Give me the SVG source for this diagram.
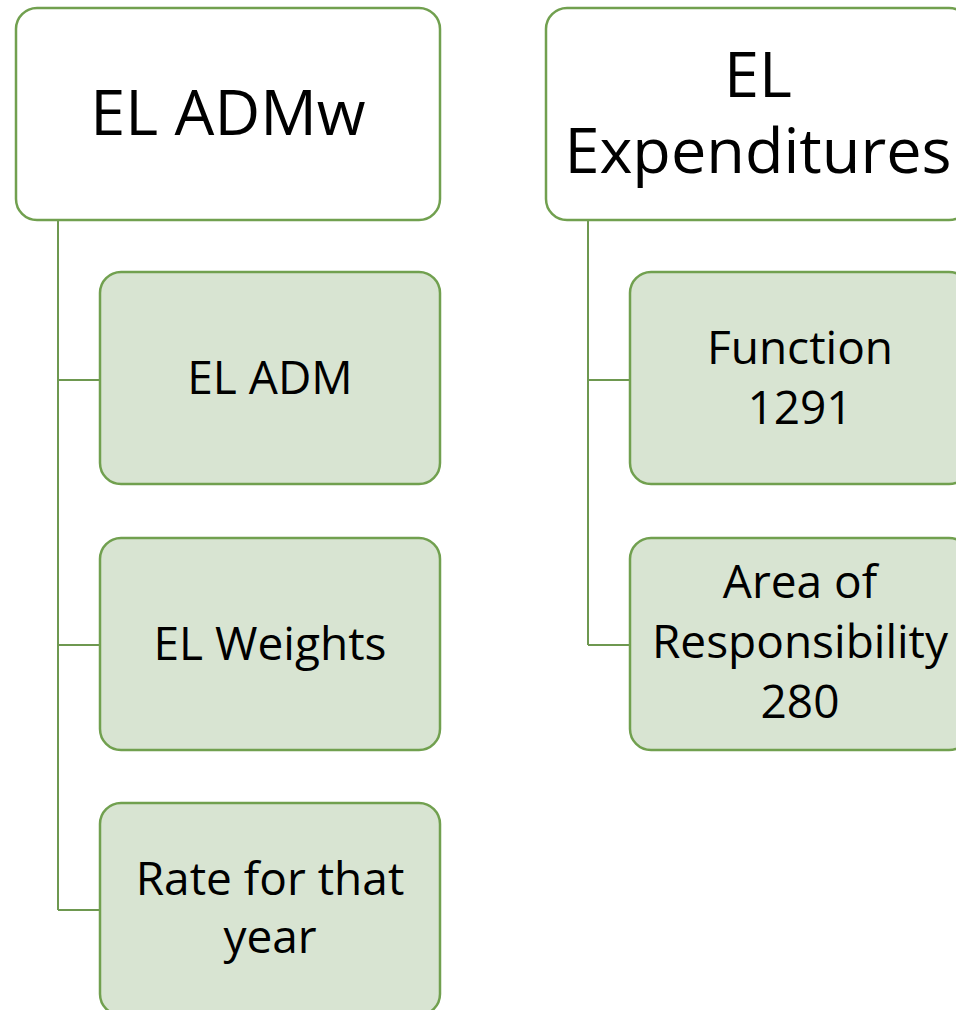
<svg xmlns="http://www.w3.org/2000/svg" width="956" height="1010" viewBox="0 0 956 1010">
<style>
.parent{fill:#ffffff;stroke:#71a04f;stroke-width:2.5}
.child{fill:#d8e4d2;stroke:#71a04f;stroke-width:2.5}
.conn{fill:none;stroke:#6e9850;stroke-width:2}
text{font-family:"Open Sans","Liberation Sans",sans-serif;fill:#000;text-anchor:middle}
.big{font-size:63px}
.small{font-size:46px}
</style>
<rect width="956" height="1010" fill="#ffffff"/>
<g id="connectors">
<path class="conn" d="M58 220 V910 M58 380 H100 M58 645 H100 M58 910 H100"/>
<path class="conn" d="M588 220 V645 M588 380 H630 M588 645 H630"/>
</g>
<g id="el-admw">
<rect class="parent" x="16" y="8" width="424" height="212" rx="21"/>
<text class="big" x="228" y="135">EL ADMw</text>
</g>
<g id="el-adm">
<rect class="child" x="100" y="272" width="340" height="212" rx="21"/>
<text class="small" x="270" y="394">EL ADM</text>
</g>
<g id="el-weights">
<rect class="child" x="100" y="538" width="340" height="212" rx="21"/>
<text class="small" x="270" y="660">EL Weights</text>
</g>
<g id="rate">
<rect class="child" x="100" y="803" width="340" height="212" rx="21"/>
<text class="small" x="270" y="895">Rate for that</text>
<text class="small" x="270" y="953">year</text>
</g>
<g id="el-expenditures">
<rect class="parent" x="546" y="8" width="424" height="212" rx="21"/>
<text class="big" x="758" y="97">EL</text>
<text class="big" x="758" y="173">Expenditures</text>
</g>
<g id="function">
<rect class="child" x="630" y="272" width="340" height="212" rx="21"/>
<text class="small" x="800" y="364">Function</text>
<text class="small" x="800" y="424">1291</text>
</g>
<g id="area">
<rect class="child" x="630" y="538" width="340" height="212" rx="21"/>
<text class="small" x="800" y="598">Area of</text>
<text class="small" x="800" y="658">Responsibility</text>
<text class="small" x="800" y="718">280</text>
</g>
</svg>
